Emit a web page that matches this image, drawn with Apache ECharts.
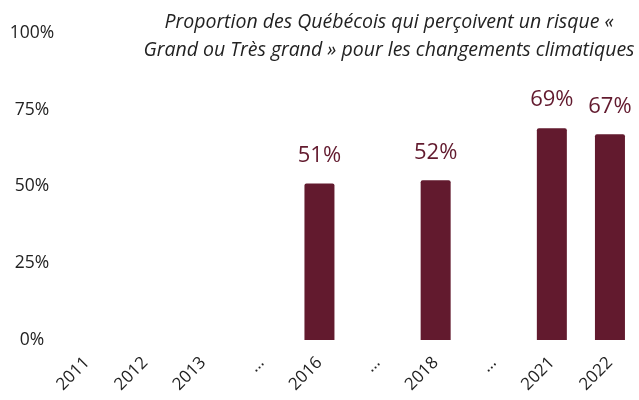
<!DOCTYPE html>
<html>
<head>
<meta charset="utf-8">
<script src="https://cdn.jsdelivr.net/npm/echarts@6/dist/echarts.min.js"></script>
<style>
  html, body { margin: 0; padding: 0; background: #fff; }
  #chart { width: 639px; height: 400px; }
</style>
</head>
<body>
<div id="chart"></div>
<script>
// categories on the x axis ("…" = skipped years)
var years = ['2011', '2012', '2013', '…', '2016', '…', '2018', '…', '2021', '2022'];
// share of respondents, in %
var values = [null, null, null, null, 51, null, 52, null, 69, 67];
var yTicks = [0, 25, 50, 75, 100];

var barColor = '#621a2e';
var textColor = '#222';
var font = 'Open Sans';

var chart = echarts.init(document.getElementById('chart'));
var option = {
  title: {
    text: 'Proportion des Québécois qui perçoivent un risque «\nGrand ou Très grand » pour les changements climatiques',
    left: 384,
    top: 3,
    textAlign: 'center',
    textStyle: {
      fontFamily: font,
      fontStyle: 'italic',
      fontWeight: 'normal',
      fontSize: 19.5,
      lineHeight: 28,
      color: textColor
    }
  },
  grid: { left: 58, right: 0, top: 33, bottom: 60 },
  xAxis: {
    type: 'category',
    data: years,
    axisLine: { show: false },
    axisTick: { show: false },
    axisLabel: {
      rotate: 45,
      margin: 20,
      fontFamily: font,
      fontSize: 17,
      color: textColor,
      interval: 0
    }
  },
  yAxis: {
    type: 'value',
    min: 0,
    max: 100,
    interval: 25,
    splitLine: { show: false },
    axisLine: { show: false },
    axisTick: { show: false },
    axisLabel: {
      formatter: function (v) { return yTicks.indexOf(v) >= 0 ? v + '%' : ''; },
      align: 'center',
      margin: 26,
      fontFamily: font,
      fontSize: 17.5,
      color: textColor
    }
  },
  series: [{
    type: 'bar',
    data: values,
    barWidth: 30,
    itemStyle: { color: barColor, borderRadius: [2, 2, 0, 0] },
    label: {
      show: true,
      position: 'top',
      distance: 17,
      formatter: '{c}%',
      fontFamily: font,
      fontSize: 22,
      color: barColor
    }
  }]
};
chart.setOption(option);
</script>
</body>
</html>
